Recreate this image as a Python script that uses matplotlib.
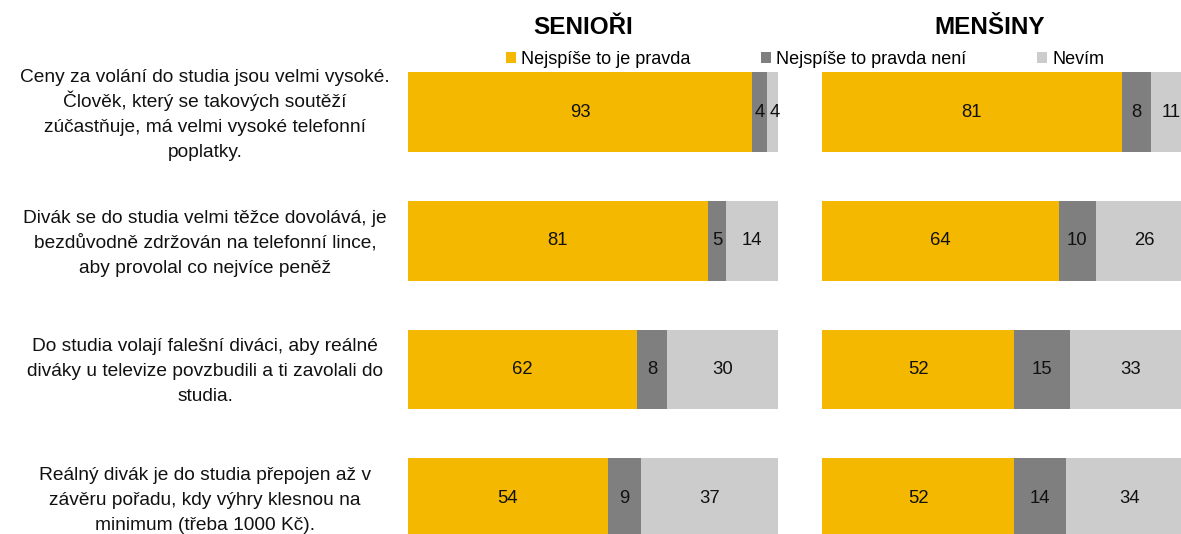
import matplotlib
matplotlib.use("Agg")
import matplotlib.pyplot as plt
import matplotlib.transforms as mtransforms
from matplotlib.patches import Patch

plt.rcParams['font.family'] = ['Liberation Sans', 'DejaVu Sans']

categories = [
    "Ceny za volání do studia jsou velmi vysoké.\nČlověk, který se takových soutěží\nzúčastňuje, má velmi vysoké telefonní\npoplatky.",
    "Divák se do studia velmi těžce dovolává, je\nbezdůvodně zdržován na telefonní lince,\naby provolal co nejvíce peněž",
    "Do studia volají falešní diváci, aby reálné\ndiváky u televize povzbudili a ti zavolali do\nstudia.",
    "Reálný divák je do studia přepojen až v\nzávěru pořadu, kdy výhry klesnou na\nminimum (třeba 1000 Kč).",
]
series_names = ["Nejspíše to je pravda", "Nejspíše to pravda není", "Nevím"]
panel_titles = ["SENIOŘI", "MENŠINY"]
seniori_true = [93, 81, 62, 54]
seniori_not = [4, 5, 8, 9]
seniori_dk = [4, 14, 30, 37]
mensiny_true = [81, 64, 52, 52]
mensiny_not = [8, 10, 15, 14]
mensiny_dk = [11, 26, 33, 34]

colors = ["#F5B800", "#7F7F7F", "#CCCCCC"]

W, H = 1181, 534
DPI = 100
fig = plt.figure(figsize=(W / DPI, H / DPI), dpi=DPI)

def px_x(p):
    return p / W

ax_w = 370 / W
ax1 = fig.add_axes([px_x(408), 0, ax_w, 1])
ax2 = fig.add_axes([px_x(822), 0, ax_w, 1])

top_i = -112 / 128.7
bot_i = (H - 112) / 128.7

panels = [
    (ax1, [seniori_true, seniori_not, seniori_dk], panel_titles[0], 583),
    (ax2, [mensiny_true, mensiny_not, mensiny_dk], panel_titles[1], 990),
]

ypos = list(range(len(categories)))
for ax, data, title, tx in panels:
    left = [0] * len(categories)
    for vals, col in zip(data, colors):
        ax.barh(ypos, vals, left=left, height=0.62, color=col, edgecolor='none')
        for y, v, l in zip(ypos, vals, left):
            ax.text(l + v / 2, y, f"{v}", ha='center', va='center', fontsize=13.3, color='#111111')
        left = [a + b for a, b in zip(left, vals)]
    ax.set_xlim(0, 100)
    ax.set_ylim(bot_i, top_i)
    ax.axis('off')
    fig.text(px_x(tx), 1 - 27 / H, title, ha='center', va='center', fontsize=17.5, fontweight='bold')

# category labels, one text per line for even spacing
base = mtransforms.blended_transform_factory(fig.transFigure, ax1.transData)
line_px = 25.0
for y, cat in zip(ypos, categories):
    lines = cat.split("\n")
    n = len(lines)
    for k, line in enumerate(lines):
        off_px = -((k - (n - 1) / 2) * line_px + 7.0)
        tr = base + mtransforms.ScaledTranslation(0, off_px / DPI, fig.dpi_scale_trans)
        fig.text(px_x(205), y, line, transform=tr, ha='center', va='baseline',
                 fontsize=13.8, color='#111111')

handles = [Patch(facecolor=c, edgecolor='none') for c in colors]
fig.legend(handles, series_names, loc='center', bbox_to_anchor=(805 / W, 1 - 59 / H),
           ncol=3, frameon=False, fontsize=13, handlelength=0.55, handleheight=0.55,
           handletextpad=0.3, columnspacing=3.9, borderpad=0, borderaxespad=0)

fig.savefig("out.png", dpi=DPI)
